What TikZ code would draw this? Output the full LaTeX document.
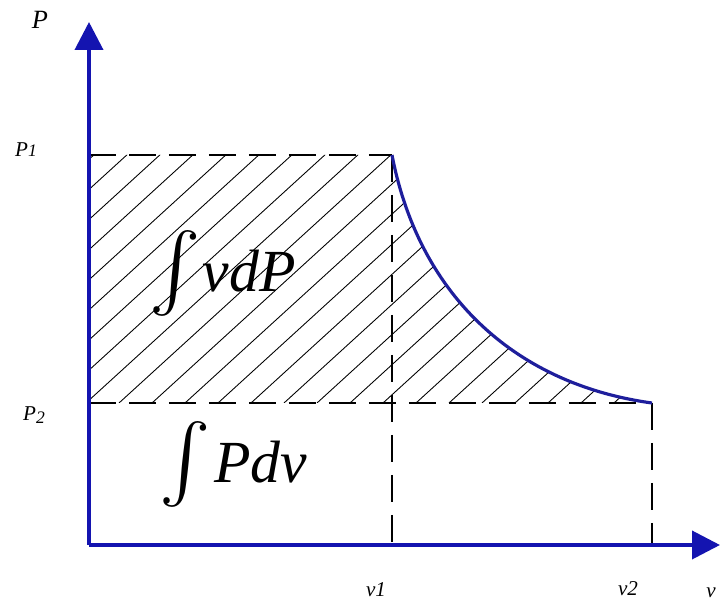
\documentclass[tikz,border=0pt]{standalone}
\usepackage{graphicx}
\usepackage{fontspec}
\setmainfont{Liberation Serif}
\usetikzlibrary{arrows.meta,positioning}
\definecolor{axblue}{HTML}{1414B0}
\definecolor{crvblue}{HTML}{1E1E9C}
\newcommand{\bigint}{\raisebox{-17pt}{\scalebox{4.4}{$\int$}}}
\tikzset{
  axis/.style={draw=axblue,line width=2.2pt,
               -{Triangle[length=0.56cm,width=0.56cm]}},
  guide/.style={draw=black,line width=0.6pt,
                dash pattern=on 0.54cm off 0.26cm},
  proc/.style={draw=crvblue,line width=1.8pt},
  hatch/.style={draw=black,line width=0.5pt},
  tick/.style={font=\itshape\fontsize{12}{13}\selectfont,inner sep=1pt},
  area/.style={font=\itshape\fontsize{34}{38}\selectfont,inner sep=0pt,
               anchor=base west},
}

\begin{document}
\begin{tikzpicture}
  \useasboundingbox (-1.78,-1.14) rectangle (12.62,10.9);

  %% -- key points ------------------------------------------------------
  \coordinate (O)    at (0,0);
  \coordinate (ytip) at (0,10.46);
  \coordinate (xtip) at (12.62,0);
  \coordinate (p1)   at (0,7.8);
  \coordinate (p2)   at (0,2.84);
  \coordinate (s1)   at (6.06,7.8);
  \coordinate (s2)   at (11.26,2.84);
  \coordinate (v1)   at (6.06,0);
  \coordinate (v2)   at (11.26,0);

  %% -- hatched area ----------------------------------------------------
  \begin{scope}
    \clip (p2) -- (p1) -- (s1) .. controls (6.62,4.9) and (8.62,3.2) .. (s2) -- cycle;
    \foreach \i in {-6,-5.34,...,12}
      \draw[hatch] (\i,2.84) -- ++(8,7.3);
  \end{scope}

  %% -- dashed guides ---------------------------------------------------
  \draw[guide] (p1) -- (s1);
  \draw[guide] (s1) -- (v1);
  \draw[guide] (p2) -- (s2);
  \draw[guide] (s2) -- (v2);

  %% -- expansion curve -------------------------------------------------
  \draw[proc] (s1) .. controls (6.62,4.9) and (8.62,3.2) .. (s2);

  %% -- axes ------------------------------------------------------------
  \draw[axis] (O) -- (ytip);
  \draw[axis] (O) -- (xtip);

  %% -- labels ----------------------------------------------------------
  \node[tick,font=\itshape\fontsize{15}{16}\selectfont] (lP) at (-0.98,10.5) {P};
  \node[tick] (lP1) at (-1.26,7.9)
    {P{\fontsize{10}{10}\selectfont 1}};
  \node[tick] (lP2) at (-1.1,2.6)
    {P\raisebox{-1.5pt}{\fontsize{10}{10}\selectfont 2}};
  \node[tick] (lv1) at (5.74,-0.9)  {v1};
  \node[tick] (lv2) at (10.78,-0.88) {v2};
  \node[tick] (lv)  at (12.44,-0.96) {v};

  \node[area] (wt) at (1.2,5.06)  {\bigint\hspace{1pt}vdP};
  \node[area] (wv) at (1.4,1.24)  {\bigint\hspace{2pt}Pdv};

\end{tikzpicture}
\end{document}
